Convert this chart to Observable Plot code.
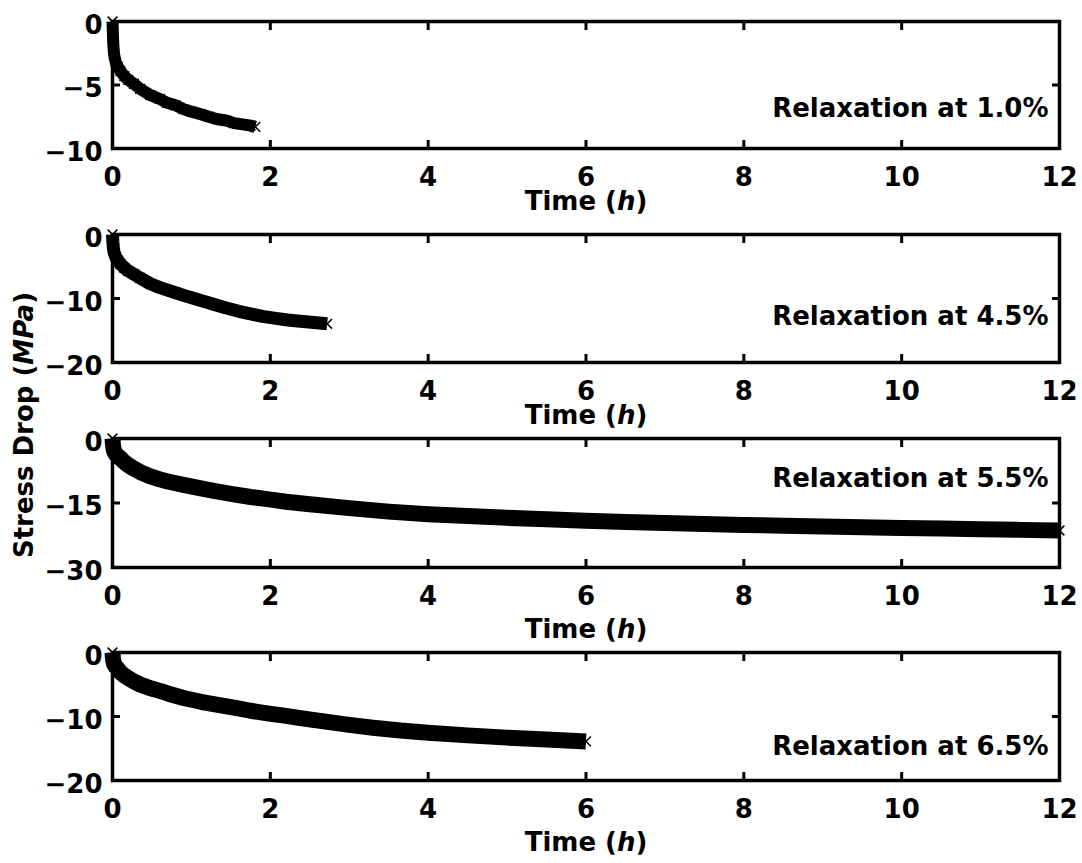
<!DOCTYPE html>
<html>
<head>
<meta charset="utf-8">
<script src="https://cdn.jsdelivr.net/npm/d3@7"></script>
<script src="https://cdn.jsdelivr.net/npm/@observablehq/plot@0.6"></script>
<style>
  html, body { margin: 0; padding: 0; background: #fff; }
  #chart { position: relative; width: 1082px; height: 863px; font-family: "DejaVu Sans", Arial, sans-serif; font-weight: bold; color: #000; }
  #chart svg { position: absolute; left: 0; }
  #ylabel { position: absolute; left: -176px; top: 412px; width: 400px; height: 26px; line-height: 26px; text-align: center; font-size: 26px; white-space: nowrap; transform: rotate(-90deg); }
</style>
</head>
<body>
<div id="chart"><div id="ylabel">Stress Drop (<i>MPa</i>)</div></div>
<script>
// Shared time axis ticks (hours)
const xTicks = [0, 2, 4, 6, 8, 10, 12];

// Panel captions
const captions = ["Relaxation at 1.0%", "Relaxation at 4.5%", "Relaxation at 5.5%", "Relaxation at 6.5%"];

// Stress-drop axis ranges and ticks (MPa)
const yDomains = [[-10, 0], [-20, 0], [-30, 0], [-20, 0]];
const yTicks = [[-10, -5, 0], [-20, -10, 0], [-30, -15, 0], [-20, -10, 0]];

// Relaxation at 1.0% strain
const time1 = [0, 0.005, 0.01, 0.02, 0.04, 0.07, 0.1, 0.15, 0.2, 0.27, 0.35, 0.48, 0.6, 0.69, 0.8, 0.9, 1.0, 1.12, 1.22, 1.33, 1.44, 1.54, 1.65, 1.75, 1.81];
const drop1 = [0, -1.0, -1.8, -2.6, -3.2, -3.6, -3.9, -4.3, -4.6, -4.9, -5.3, -5.8, -6.1, -6.4, -6.6, -6.9, -7.1, -7.3, -7.5, -7.7, -7.8, -8.0, -8.1, -8.2, -8.3];

// Relaxation at 4.5% strain
const time2 = [0, 0.005, 0.01, 0.02, 0.04, 0.07, 0.1, 0.15, 0.2, 0.27, 0.35, 0.48, 0.6, 0.8, 0.95, 1.12, 1.28, 1.43, 1.6, 1.75, 1.9, 2.07, 2.22, 2.38, 2.55, 2.72];
const drop2 = [0, -1.2, -2.0, -2.8, -3.5, -4.1, -4.6, -5.2, -5.7, -6.2, -6.8, -7.7, -8.3, -9.1, -9.7, -10.3, -10.9, -11.45, -12.0, -12.4, -12.8, -13.1, -13.35, -13.55, -13.75, -13.95];

// Relaxation at 5.5% strain
const time3 = [0, 0.005, 0.01, 0.02, 0.04, 0.07, 0.1, 0.15, 0.2, 0.27, 0.35, 0.48, 0.6, 0.7, 0.9, 1.12, 1.3, 1.54, 1.75, 1.96, 2.2, 2.5, 3, 3.5, 4, 4.5, 5, 5.5, 6, 6.5, 7, 7.5, 8, 8.5, 9, 9.5, 10, 10.5, 11, 11.5, 12];
const drop3 = [0, -1.2, -2.0, -2.9, -3.6, -4.1, -4.6, -5.5, -6.2, -7.0, -7.8, -8.8, -9.5, -10.0, -10.8, -11.6, -12.25, -13.0, -13.6, -14.1, -14.7, -15.3, -16.2, -17.0, -17.6, -18.05, -18.45, -18.8, -19.1, -19.4, -19.65, -19.9, -20.1, -20.3, -20.45, -20.65, -20.8, -20.95, -21.1, -21.25, -21.4];

// Relaxation at 6.5% strain
const time4 = [0, 0.005, 0.01, 0.02, 0.04, 0.07, 0.1, 0.15, 0.2, 0.27, 0.35, 0.48, 0.6, 0.7, 0.9, 1.12, 1.3, 1.54, 1.75, 1.96, 2.2, 2.38, 2.7, 3.0, 3.3, 3.65, 4.0, 4.5, 5.0, 5.5, 6.0];
const drop4 = [0, -0.8, -1.3, -1.8, -2.2, -2.6, -3.1, -3.6, -4.0, -4.5, -5.0, -5.6, -6.0, -6.4, -7.1, -7.7, -8.1, -8.6, -9.1, -9.5, -9.9, -10.25, -10.8, -11.3, -11.75, -12.2, -12.55, -12.95, -13.3, -13.6, -13.9];

const times = [time1, time2, time3, time4];
const drops = [drop1, drop2, drop3, drop4];

// Layout of the four stacked panels
const layout = [
  { top: 9,   height: 213, frame: 127, band: 12, captionDy: 87, timeDy: 43 },
  { top: 222, height: 204, frame: 128, band: 13, captionDy: 82, timeDy: 43 },
  { top: 426, height: 214, frame: 129, band: 16, captionDy: 40, timeDy: 52 },
  { top: 640, height: 223, frame: 128, band: 16, captionDy: 94, timeDy: 52 }
];

const minus = d => (d < 0 ? "\u2212" + (-d) : String(d));
const font = { fontFamily: "'DejaVu Sans', Arial, sans-serif", fontWeight: "bold", fontSize: "26px" };

const chart = document.getElementById("chart");
const NS = "http://www.w3.org/2000/svg";

layout.forEach((L, i) => {
  const rows = times[i].map((t, j) => ({ t, s: drops[i][j] }));
  const marginTop = 12;
  const svg = Plot.plot({
    width: 1082,
    height: L.height,
    marginLeft: 112,
    marginRight: 23,
    marginTop,
    marginBottom: L.height - marginTop - L.frame,
    x: { domain: [0, 12] },
    y: { domain: yDomains[i] },
    style: { background: "transparent", overflow: "visible", color: "black", ...font },
    marks: [
      // dense trail of relaxation readings
      Plot.line(rows, { x: "t", y: "s", stroke: "black", strokeWidth: L.band, strokeLinejoin: "round", strokeLinecap: "butt" }),
      Plot.dot(rows, { x: "t", y: "s", symbol: "times", r: 4.5, stroke: "black", strokeWidth: 1.5 }),
      Plot.frame({ stroke: "black", strokeWidth: 3.5 }),
      // inward tick marks on all four sides
      Plot.axisX({ ticks: xTicks, anchor: "bottom", tickSize: -8, strokeWidth: 3, tickFormat: () => "", label: null }),
      Plot.axisX({ ticks: xTicks, anchor: "top", tickSize: -8, strokeWidth: 3, tickFormat: () => "", label: null }),
      Plot.axisY({ ticks: yTicks[i], anchor: "left", tickSize: -8, strokeWidth: 3, tickFormat: () => "", label: null }),
      Plot.axisY({ ticks: yTicks[i], anchor: "right", tickSize: -8, strokeWidth: 3, tickFormat: () => "", label: null }),
      // tick labels
      Plot.axisX({ ticks: xTicks, anchor: "bottom", tickSize: 0, tickPadding: 19, label: null, ...font }),
      Plot.axisY({ ticks: yTicks[i], anchor: "left", tickSize: 0, tickPadding: 10, dy: 4, tickFormat: minus, label: null, ...font }),
      // axis title and caption
      Plot.text(["Time (h)"], { frameAnchor: "bottom", dy: L.timeDy, lineAnchor: "top", fill: "black", ...font }),
      Plot.text([captions[i]], { frameAnchor: "top-right", dx: -11, dy: L.captionDy, textAnchor: "end", lineAnchor: "middle", fill: "black", ...font })
    ]
  });
  svg.style.top = L.top + "px";

  svg.querySelectorAll("text").forEach(t => {
    if (t.textContent === "Time (h)") {
      t.textContent = "Time (";
      const it = document.createElementNS(NS, "tspan");
      it.setAttribute("font-style", "italic");
      it.textContent = "h";
      t.appendChild(it);
      t.appendChild(document.createTextNode(")"));
    }
  });
  chart.appendChild(svg);
});
</script>
</body>
</html>
